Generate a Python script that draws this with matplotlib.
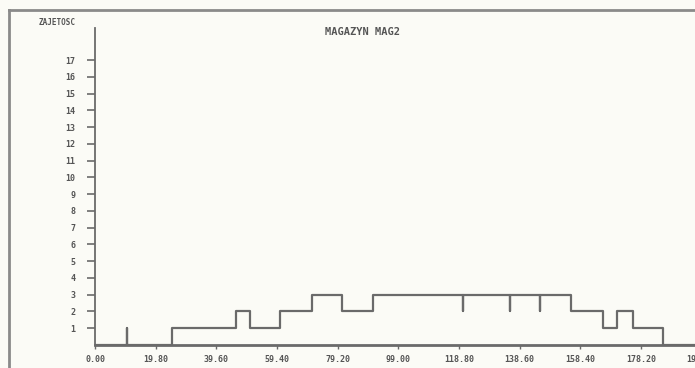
import matplotlib.pyplot as plt
from matplotlib.lines import Line2D

# occupancy of store MAG2 over time (step plot, spikes are zero-width events)
times = [0.0, 10.4, 10.4, 25.1, 46.0, 50.5, 60.3, 70.8, 80.6, 90.7,
         120.0, 120.0, 135.5, 135.5, 145.2, 145.2, 155.3, 165.7, 170.3,
         175.5, 185.3, 198.0]
levels = [0, 1, 0, 1, 2, 1, 2, 3, 2, 3,
          2, 3, 2, 3, 2, 3, 2, 1, 2,
          1, 0, 0]

x_ticks = [0.0, 19.8, 39.6, 59.4, 79.2, 99.0, 118.8, 138.6, 158.4, 178.2, 198.0]
y_ticks = list(range(1, 18))

title = "MAGAZYN MAG2"
y_label = "ZAJETOSC"

INK = "#6a6a6a"
TXT = "#555555"
BG = "#fbfbf6"

fig = plt.figure(figsize=(6.95, 3.68), dpi=100, facecolor=BG)
ax = fig.add_axes([0.1367, 0.0625, 0.873, 0.861])
ax.set_facecolor(BG)

ax.plot(times, levels, drawstyle="steps-post", color=INK, lw=1.6)

ax.set_xlim(0, 198)
ax.set_ylim(0, 18.9)
for s in ["top", "right"]:
    ax.spines[s].set_visible(False)
ax.spines["left"].set_color(INK)
ax.spines["left"].set_linewidth(1.3)
ax.spines["bottom"].set_color(INK)
ax.spines["bottom"].set_linewidth(2.0)

ax.set_xticks(x_ticks)
ax.set_xticklabels([f"{v:.2f}" for v in x_ticks])
ax.set_yticks(y_ticks)
ax.set_yticklabels([str(v) for v in y_ticks])
ax.tick_params(axis="y", direction="out", length=6, width=1.2, color=INK,
               labelsize=6, labelcolor=TXT, pad=8)
ax.tick_params(axis="x", direction="out", length=3, width=1.0, color=INK,
               labelsize=6, labelcolor=TXT, pad=4)
for lab in ax.get_xticklabels() + ax.get_yticklabels():
    lab.set_family("DejaVu Sans Mono")
    lab.set_fontweight("bold")

fig.text(0.082, 0.94, y_label, fontsize=5.5, color=TXT, ha="center", va="center",
         family="DejaVu Sans Mono", fontweight="bold")
fig.text(0.522, 0.913, title, fontsize=7.5, color=TXT, ha="center", va="center",
         family="DejaVu Sans Mono", fontweight="bold")

# frame of the printout (top and left edges)
fig.add_artist(Line2D([9 / 695, 1.0], [1 - 10 / 368, 1 - 10 / 368],
                      transform=fig.transFigure, color="#8a8a8a", lw=2))
fig.add_artist(Line2D([9 / 695, 9 / 695], [0.0, 1 - 10 / 368],
                      transform=fig.transFigure, color="#8a8a8a", lw=2))

fig.savefig("out.png", dpi=100, facecolor=BG)
